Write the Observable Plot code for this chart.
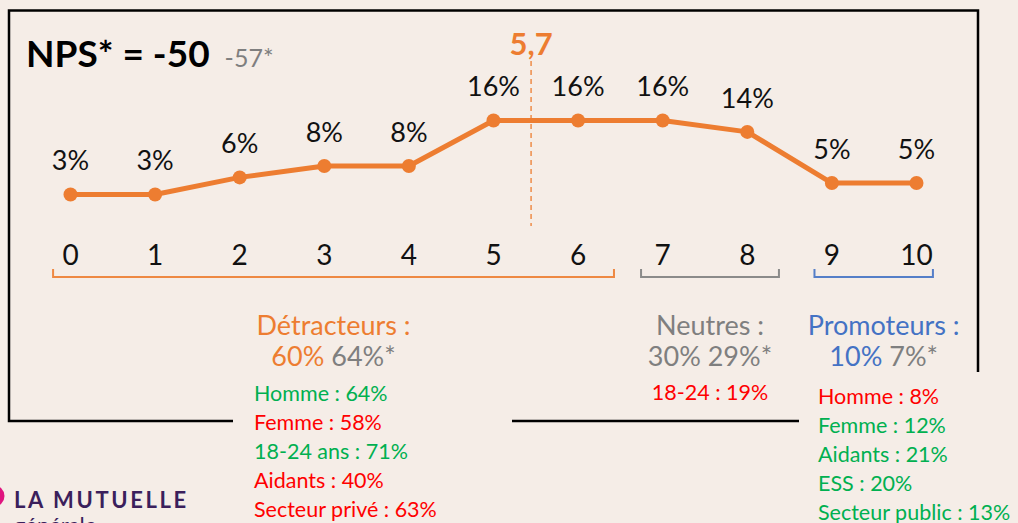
<!DOCTYPE html>
<html><head><meta charset="utf-8">
<script src="https://cdn.jsdelivr.net/npm/d3@7"></script>
<script src="https://cdn.jsdelivr.net/npm/@observablehq/plot@0.6"></script>
<style>
html,body{margin:0;padding:0;background:#F5EDE7;}
svg{display:block}
</style></head><body><div id="chart"></div>
<script>
// ---- data ----
const scores = [0,1,2,3,4,5,6,7,8,9,10];
const shares = [3,3,6,8,8,16,16,16,14,5,5];
const npsValue = "-50";
const npsPrevious = "-57*";
const meanScore = "5,7";
const meanPosition = 5.45;
const groupNames = ["Détracteurs :", "Neutres :", "Promoteurs :"];
const groupStart = [-0.2, 6.75, 8.8];   // bracket extents, in score units
const groupEnd = [6.43, 8.38, 10.2];
const groupShares = ["60%", "30%", "10%"];
const groupPrevious = ["64%*", "29%*", "7%*"];
const detractorDetails = ["Homme : 64%", "Femme : 58%", "18-24 ans : 71%", "Aidants : 40%", "Secteur privé : 63%"];
const detractorSign = ["+", "-", "+", "-", "-"];
const neutralDetails = ["18-24 : 19%"];
const neutralSign = ["-"];
const promoterDetails = ["Homme : 8%", "Femme : 12%", "Aidants : 21%", "ESS : 20%", "Secteur public : 13%"];
const promoterSign = ["-", "+", "+", "+", "+"];

// ---- styles ----
const ORANGE = "#ED7D31", GRAY = "#7F7F7F", BLUE = "#4472C4", GREEN = "#00B050", RED = "#FF0000";
const groupColors = [ORANGE, GRAY, BLUE];
const signColor = s => s === "+" ? GREEN : RED;
const FONT = "Lato, 'Open Sans', sans-serif";

const data = scores.map((s, i) => ({score: s, share: shares[i]}));
const groups = groupNames.map((n, i) => ({
  name: n, start: groupStart[i], end: groupEnd[i],
  share: groupShares[i], prev: groupPrevious[i], color: groupColors[i]
}));

const custom = fn => (index, scales, values, dims) => {
  const g = d3.create("svg:g").attr("text-anchor", "start");
  fn(g, scales, dims);
  return g.node();
};

const frameBox = custom((g) => {
  g.append("path")
    .attr("d", "M233,421 H9 V10.5 H978 V372 M512,421 H799")
    .attr("fill", "none").attr("stroke", "#000").attr("stroke-width", 2.5);
});

const brackets = custom((g, s) => {
  groups.forEach((d, i) => {
    const x1 = s.x(d.start);
    const x2 = s.x(d.end);
    g.append("path")
      .attr("d", `M${x1},269 V277 H${x2} V269`)
      .attr("fill", "none").attr("stroke", d.color).attr("stroke-width", 2).attr("opacity", 0.9);
    const cx = (x1 + x2) / 2 + (i === 2 ? 10 : 0);
    g.append("text").attr("x", cx).attr("y", 335).attr("text-anchor", "middle")
      .attr("font-family", FONT).attr("font-size", 27).attr("fill", d.color).text(d.name);
    const t2 = g.append("text").attr("x", cx).attr("y", 366).attr("text-anchor", "middle")
      .attr("font-family", FONT).attr("font-size", 27);
    t2.append("tspan").attr("fill", d.color).text(d.share + " ");
    t2.append("tspan").attr("fill", GRAY).text(d.prev);
  });
});

const meanMark = custom((g, s) => {
  const x = s.x(meanPosition);
  g.append("line").attr("x1", x).attr("x2", x).attr("y1", 61).attr("y2", 226)
    .attr("stroke", ORANGE).attr("stroke-width", 1.3).attr("stroke-dasharray", "5,4");
  g.append("text").attr("x", x).attr("y", 55).attr("text-anchor", "middle")
    .attr("font-family", FONT).attr("font-weight", "bold").attr("font-size", 31)
    .attr("fill", ORANGE).text(meanScore);
});

const titleMark = custom((g) => {
  const t = g.append("text").attr("x", 26).attr("y", 67).attr("font-family", FONT);
  t.append("tspan").attr("font-weight", "bold").attr("font-size", 37).attr("fill", "#000").text("NPS* = " + npsValue);
  t.append("tspan").attr("font-size", 25).attr("fill", GRAY).attr("dx", 15).text(npsPrevious);
});

const lists = custom((g) => {
  const list = (items, signs, x, y0, anchor) => items.forEach((t, i) => {
    g.append("text").attr("x", x).attr("y", y0 + i * 29).attr("text-anchor", anchor)
      .attr("font-family", FONT).attr("font-size", 21.5).attr("fill", signColor(signs[i])).text(t);
  });
  list(detractorDetails, detractorSign, 254, 401, "start");
  list(neutralDetails, neutralSign, 710, 400, "middle");
  list(promoterDetails, promoterSign, 818, 404, "start");
});

const logo = custom((g) => {
  g.append("circle").attr("cx", -6).attr("cy", 496).attr("r", 10.5).attr("fill", "#E0157F");
  g.append("text").attr("x", 14).attr("y", 508).attr("font-family", FONT).attr("font-weight", "bold")
    .attr("font-size", 22).attr("letter-spacing", 2.6).attr("fill", "#3B1F5C").text("LA MUTUELLE");
  g.append("text").attr("x", 14).attr("y", 533).attr("font-family", FONT)
    .attr("font-size", 22).attr("fill", "#3B1F5C").text("générale");
});

const chart = Plot.plot({
  width: 1018,
  height: 523,
  margin: 0,
  style: {background: "#F5EDE7", fontFamily: FONT, overflow: "hidden"},
  x: {domain: [0, 10], range: [70, 916], axis: null},
  y: {domain: [0, 16], range: [211, 120], axis: null},
  marks: [
    frameBox,
    meanMark,
    Plot.line(data, {x: "score", y: "share", stroke: ORANGE, strokeWidth: 5}),
    Plot.dot(data, {x: "score", y: "share", r: 7, fill: ORANGE}),
    Plot.text(data, {x: "score", y: "share", text: d => d.share + "%", dy: -33, fontSize: 27, fill: "#111"}),
    Plot.text(scores, {x: d => d, frameAnchor: "top", dy: 245, text: d => String(d), fontSize: 28, fill: "#111"}),
    brackets,
    titleMark,
    lists,
    logo
  ]
});
document.getElementById("chart").appendChild(chart);
</script></body></html>
